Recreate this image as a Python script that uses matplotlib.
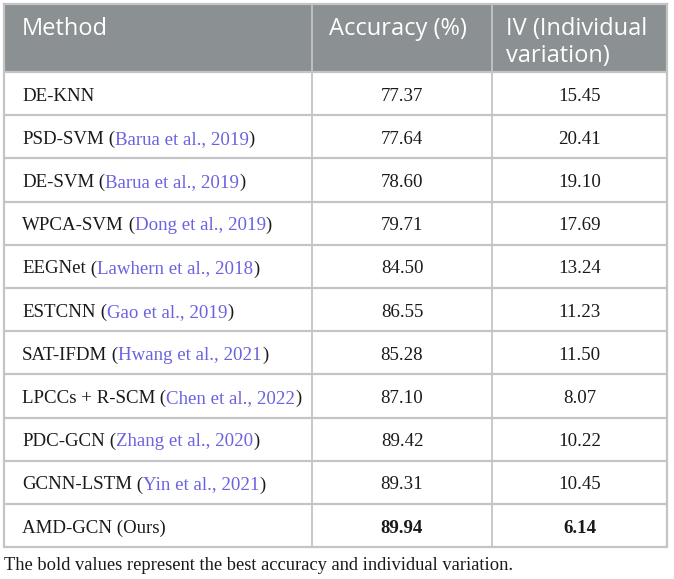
import matplotlib
matplotlib.use("Agg")
import matplotlib.pyplot as plt
from matplotlib.patches import Rectangle

headers = [["Method"], ["Accuracy (%)"], ["IV (Individual", "variation)"]]
methods = ["DE-KNN", "PSD-SVM", "DE-SVM", "WPCA-SVM", "EEGNet", "ESTCNN",
           "SAT-IFDM", "LPCCs + R-SCM", "PDC-GCN", "GCNN-LSTM", "AMD-GCN (Ours)"]
citations = ["", "Barua et al., 2019", "Barua et al., 2019", "Dong et al., 2019",
             "Lawhern et al., 2018", "Gao et al., 2019", "Hwang et al., 2021",
             "Chen et al., 2022", "Zhang et al., 2020", "Yin et al., 2021", ""]
accuracy = ["77.37", "77.64", "78.60", "79.71", "84.50", "86.55", "85.28",
            "87.10", "89.42", "89.31", "89.94"]
iv = ["15.45", "20.41", "19.10", "17.69", "13.24", "11.23", "11.50",
      "8.07", "10.22", "10.45", "6.14"]
best_row = 10
footnote = "The bold values represent the best accuracy and individual variation."

W, H = 674, 579
fig = plt.figure(figsize=(W / 100, H / 100), dpi=100)
ax = fig.add_axes([0, 0, 1, 1])
ax.set_xlim(0, W)
ax.set_ylim(H, 0)
ax.axis("off")

x_left, x_c1, x_c2, x_right = 4, 312, 492, 667
y_top, y_head = 4, 72
row_h = 43.2
n = len(methods)
y_bottom = y_head + row_h * n

header_col = "#8b9093"
grid_col = "#c4c4c4"
link_col = "#6a62e0"
serif = "Liberation Serif"
sans = "Open Sans"
fs_body = 13.6
fs_head = 17.0

ax.add_patch(Rectangle((x_left, y_top), x_right - x_left, y_head - y_top,
                       facecolor=header_col, edgecolor="none", zorder=1))
# grid
lw = 1.6
for i in range(n + 1):
    y = y_head + row_h * i
    ax.plot([x_left, x_right], [y, y], color=grid_col, lw=lw, zorder=2,
            solid_capstyle="butt")
for x in (x_left, x_right):
    ax.plot([x, x], [y_top, y_bottom], color=grid_col, lw=lw, zorder=2)
for x in (x_c1, x_c2):
    ax.plot([x, x], [y_top, y_bottom], color=grid_col, lw=1.3, zorder=2)
ax.plot([x_left, x_right], [y_top, y_top], color=grid_col, lw=lw, zorder=2)

# header
hx = [22, 329, 506]
line_y = [29, 56]
for x, lines in zip(hx, headers):
    for k, s in enumerate(lines):
        ax.text(x, line_y[k], s, color="white", fontsize=fs_head, family=sans,
                ha="left", va="center", zorder=3)

fig.canvas.draw()
renderer = fig.canvas.get_renderer()
inv = ax.transData.inverted()

for i in range(n):
    yc = y_head + row_h * (i + 0.5) + 2.5
    t = ax.text(22, yc, methods[i], fontsize=fs_body, family=serif,
                ha="left", va="center", color="#1a1a1a", zorder=3)
    if citations[i]:
        parts = [(" (", "#1a1a1a"), (citations[i], link_col), (")", "#1a1a1a")]
        prev = t
        for s, c in parts:
            bb = prev.get_window_extent(renderer)
            x_next = inv.transform((bb.x1, bb.y0))[0]
            prev = ax.text(x_next, yc, s, fontsize=fs_body, family=serif,
                           ha="left", va="center", color=c, zorder=3)
    weight = "bold" if i == best_row else "normal"
    ax.text((x_c1 + x_c2) / 2, yc, accuracy[i], fontsize=fs_body, family=serif,
            ha="center", va="center", color="#1a1a1a", weight=weight, zorder=3)
    ax.text((x_c2 + x_right) / 2, yc, iv[i], fontsize=fs_body, family=serif,
            ha="center", va="center", color="#1a1a1a", weight=weight, zorder=3)

ax.text(4, 566, footnote, fontsize=13.3, family=serif, ha="left", va="center",
        color="#1a1a1a")

fig.savefig("out.png", dpi=100)
